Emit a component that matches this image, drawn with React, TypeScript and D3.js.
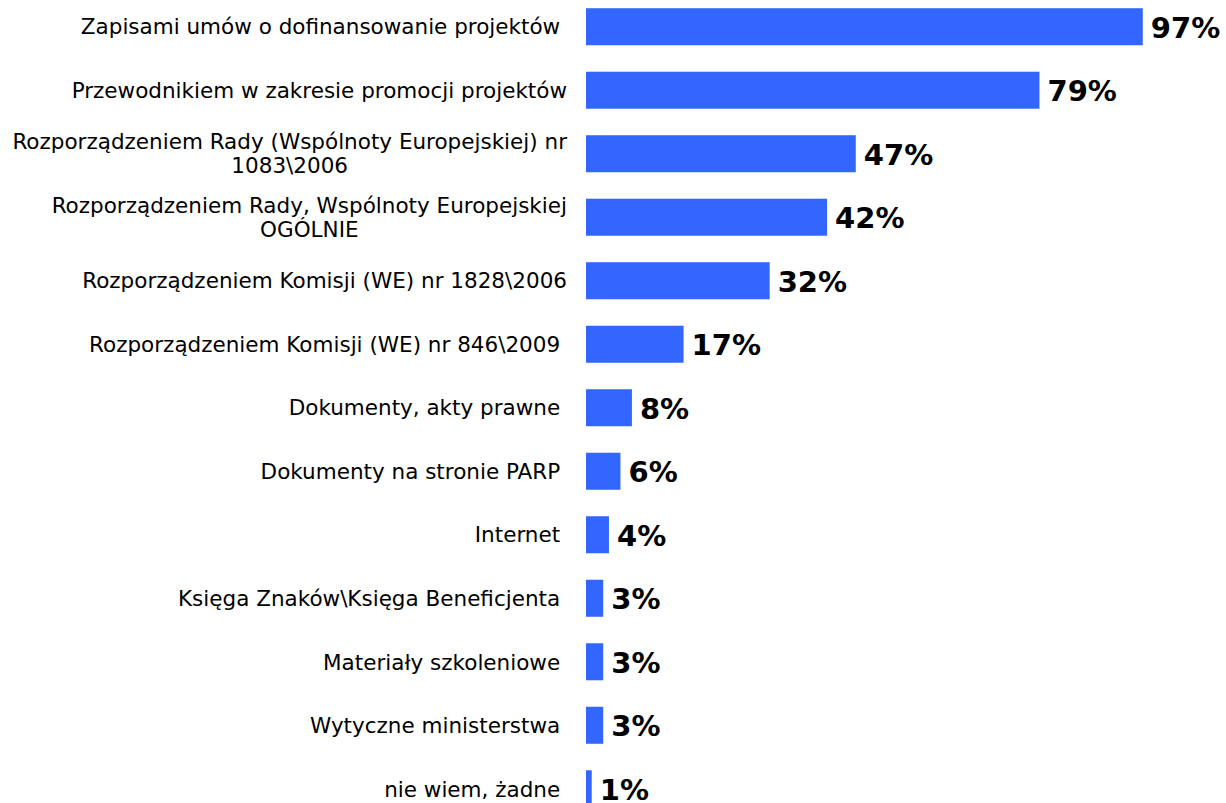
import React from "react";
import * as d3 from "d3";

const categories: string[][] = [
  ["Zapisami umów o dofinansowanie projektów "],
  ["Przewodnikiem w zakresie promocji projektów"],
  ["Rozporządzeniem Rady (Wspólnoty Europejskiej) nr", "1083\\2006"],
  ["Rozporządzeniem Rady, Wspólnoty Europejskiej", "OGÓLNIE"],
  ["Rozporządzeniem Komisji (WE) nr 1828\\2006"],
  ["Rozporządzeniem Komisji (WE) nr 846\\2009 "],
  ["Dokumenty, akty prawne "],
  ["Dokumenty na stronie PARP "],
  ["Internet "],
  ["Księga Znaków\\Księga Beneficjenta "],
  ["Materiały szkoleniowe "],
  ["Wytyczne ministerstwa "],
  ["nie wiem, żadne "],
];
const values: number[] = [97, 79, 47, 42, 32, 17, 8, 6, 4, 3, 3, 3, 1];

const W = 1226;
const H = 803;
const barX0 = 586;
const labelX = 567;
const FONT = "DejaVu Sans";
const LABEL_SIZE = 21.5;

function measure(s: string): number {
  if (typeof document === "undefined") return s.length * 11;
  const c = document.createElement("canvas").getContext("2d")!;
  c.font = `${LABEL_SIZE}px "${FONT}"`;
  return c.measureText(s).width;
}

export default function App() {
  const x = d3.scaleLinear().domain([0, 100]).range([0, 574]);
  const y = d3
    .scaleBand<number>()
    .domain(d3.range(values.length))
    .range([-5, 820.5])
    .paddingInner(0.417)
    .paddingOuter(0.208);
  const bh = y.bandwidth();
  return (
    <svg
      width={W}
      height={H}
      style={{ position: "fixed", left: 0, top: 0, background: "#fff" }}
    >
      {values.map((v, i) => {
        const top = y(i) as number;
        const cy = top + bh / 2;
        const lines = categories[i];
        const multi = lines.length > 1;
        const centerX = multi ? labelX - measure(lines[0]) / 2 : labelX;
        return (
          <g key={i}>
            <rect x={barX0} y={top} width={x(v)} height={bh} fill="#3366FF" />
            <text
              x={barX0 + x(v) + 8}
              y={cy}
              dy="0.38em"
              fontFamily={FONT}
              fontWeight="bold"
              fontSize={29}
              fill="#000"
            >
              {v}%
            </text>
            {lines.map((ln, j) => (
              <text
                key={j}
                x={multi ? (j === 0 ? labelX : centerX) : labelX}
                y={cy + (j - (lines.length - 1) / 2) * 24}
                dy="0.36em"
                textAnchor={multi && j > 0 ? "middle" : "end"}
                fontFamily={FONT}
                fontSize={LABEL_SIZE}
                fill="#000"
                style={{ whiteSpace: "pre" }}
              >
                {ln}
              </text>
            ))}
          </g>
        );
      })}
    </svg>
  );
}
